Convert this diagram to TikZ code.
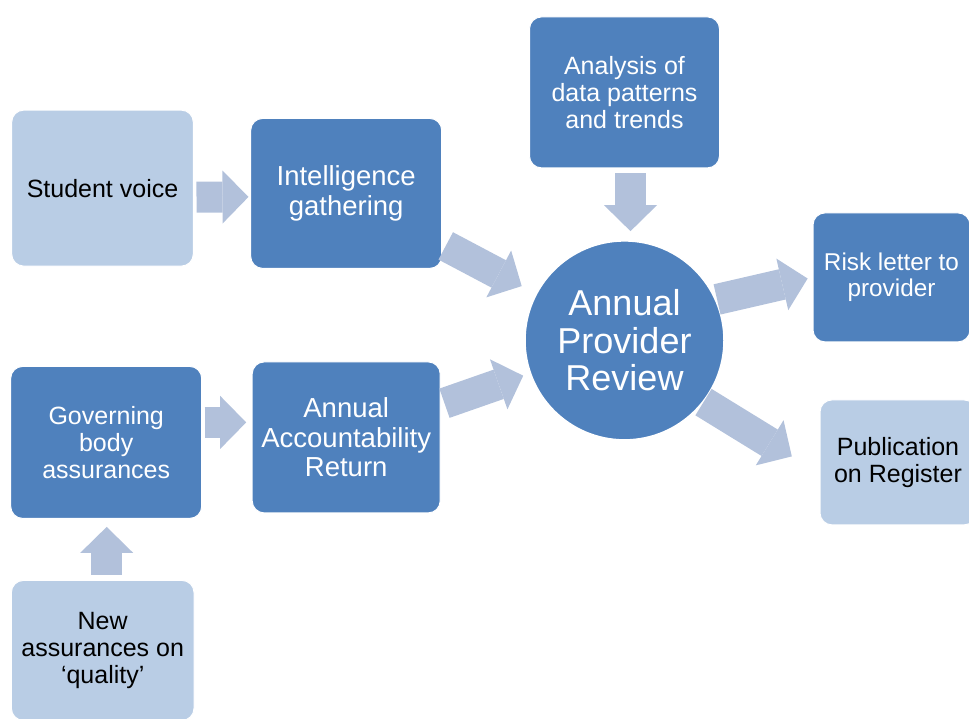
\documentclass[tikz,border=0pt]{standalone}
\usepackage{fontspec}
\setmainfont{Liberation Sans}
\usetikzlibrary{positioning, arrows.meta}
\definecolor{darkblue}{HTML}{4F81BD}
\definecolor{lightblue}{HTML}{B9CDE5}
\definecolor{arrowblue}{HTML}{B2C1DB}

\begin{document}
\begin{tikzpicture}[x=1pt,y=-1pt,on grid,
    box/.style={rectangle,rounded corners=12pt,draw=white,line width=1pt,align=center,inner sep=0pt,font=\fontsize{25}{27}\selectfont},
    dark box/.style={box,fill=darkblue,text=white},
    light box/.style={box,fill=lightblue,text=black},
    big text/.style={font=\fontsize{27.5}{29.5}\selectfont},
    flow/.style={color=arrowblue,line width=31pt,-{Triangle[length=26pt,width=53pt,line width=0pt,fill=arrowblue]}}]
      \useasboundingbox (0,0) rectangle (969,718);
      \node[circle,fill=darkblue,draw=white,line width=1.5pt,minimum size=199pt,inner sep=0pt,text=white,align=center,font=\fontsize{36}{37.5}\selectfont] (review) at (624.5,340.4) {Annual\\Provider\\Review};
      \node[dark box,big text,minimum width=191pt,minimum height=150pt] (intel) [above left=147pt and 278.3pt of review] {Intelligence\\gathering};
      \node[dark box,big text,minimum width=188pt,minimum height=151pt] (aar) [below=244pt of intel] {Annual\\Accountability\\Return};
      \node[light box,minimum width=181.6pt,minimum height=156pt] (student) [above left=5.3pt and 243.7pt of intel] {Student voice};
      \node[dark box,minimum width=191pt,minimum height=152pt] (gov) [below left=5pt and 240pt of aar] {Governing\\body\\assurances};
      \node[light box,minimum width=182.6pt,minimum height=140pt] (new) [below left=208pt and 3.5pt of gov] {New\\assurances on\\`quality'};
      \node[dark box,minimum width=190pt,minimum height=151pt] (analysis) [above=248pt of review] {Analysis of\\data patterns\\and trends};
      \node[dark box,minimum width=157pt,minimum height=129pt,font=\fontsize{24.3}{26.5}\selectfont] (risk) [above right=63pt and 267pt of review] {Risk letter to\\provider};
      \node[light box,minimum width=156pt,minimum height=125pt] (pub) [below right=122pt and 273.5pt of review] {Publication\\on Register};
      \path[flow]
      ([yshift=-9pt]student.east) edge [shorten <=2.7pt, shorten >=1.7pt] ([yshift=-3.5pt]intel.west)
      (intel) edge [shorten <=4pt, shorten >=16pt] (review)
      (aar) edge [shorten <=4pt, shorten >=7pt] (review)
      ([xshift=6pt]analysis.south) edge [shorten <=5pt, shorten >=9pt] ([xshift=6pt]review.north)
      (review.24) edge [shorten <=1pt, shorten >=5pt] (risk.west)
      (review.-38) edge [shorten <=0pt, shorten >=32.5pt] ([yshift=-11pt]pub.west)
      ([yshift=20pt]gov.east) edge [shorten <=2.3pt, shorten >=5.5pt] ([yshift=20pt]gov.east -| aar.west)
      ([xshift=4pt]new.north) edge [shorten <=5pt, shorten >=8pt] ([xshift=4pt]new.north |- gov.south);
    \end{tikzpicture}
\end{document}
